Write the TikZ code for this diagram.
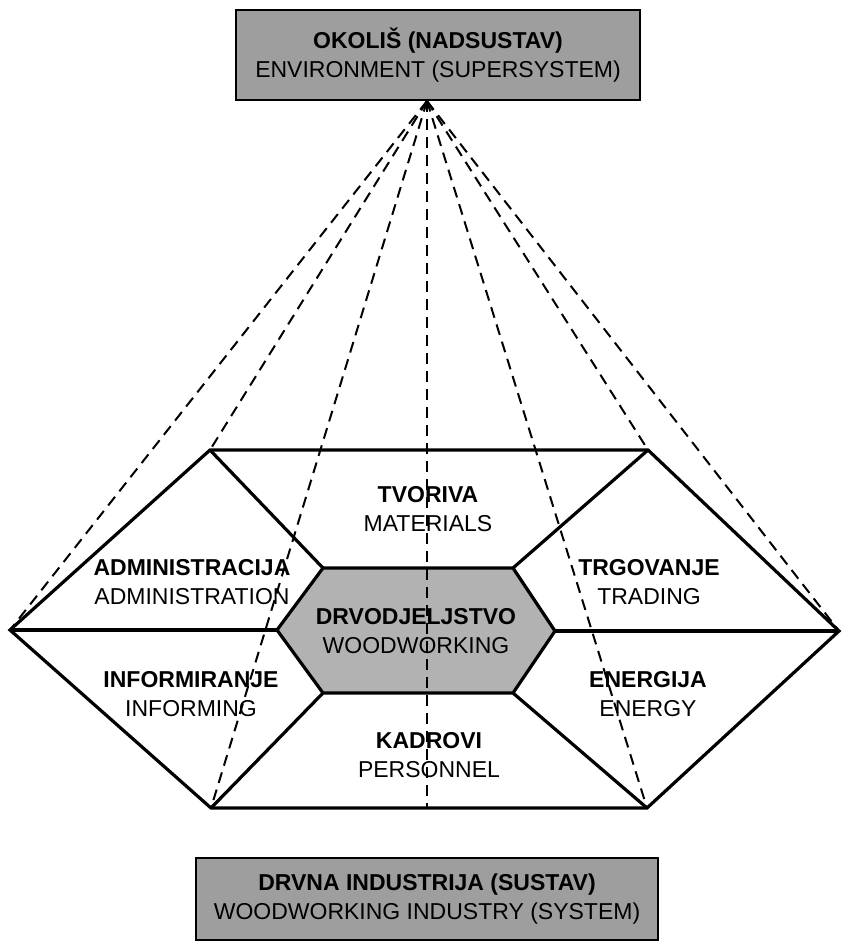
\documentclass[tikz,border=0pt]{standalone}
\usepackage{fontspec}
\setsansfont{Liberation Sans}
\usetikzlibrary{positioning}

\tikzset{
  sysbox/.style={draw, line width=2.5pt, fill=black!38, align=center, inner sep=0pt},
  part/.style={align=center, inner sep=0pt},
  link/.style={dash pattern=on 11pt off 7pt, line width=2pt},
  rim/.style={line width=3.2pt, line join=miter}
}

\begin{document}
\begin{tikzpicture}[x=1pt,y=-1pt,font=\sffamily\fontsize{23}{28.5}\selectfont]
\useasboundingbox (0,0) rectangle (842,948);

% supersystem and system
\node[sysbox, minimum width=404pt, minimum height=90pt] (env) at (438,55)
  {\textbf{OKOLIŠ (NADSUSTAV)}\\ENVIRONMENT (SUPERSYSTEM)};
\node[sysbox, minimum width=462pt, minimum height=82pt] (sys) at (427,899)
  {\textbf{DRVNA INDUSTRIJA (SUSTAV)}\\WOODWORKING INDUSTRY (SYSTEM)};

% outer hexagon
\coordinate (ol)  at (10,630);
\coordinate (otl) at (210,450);
\coordinate (otr) at (648,450);
\coordinate (or)  at (839,631);
\coordinate (obr) at (647,808);
\coordinate (obl) at (211,808);
\coordinate (obc) at (427,808);
% inner hexagon
\coordinate (il)  at (277,630);
\coordinate (itl) at (323,568);
\coordinate (itr) at (513,568);
\coordinate (ir)  at (555,631);
\coordinate (ibr) at (513,693);
\coordinate (ibl) at (323,693);

\coordinate (apex) at (427,101);

\fill[black!30] (il) -- (itl) -- (itr) -- (ir) -- (ibr) -- (ibl) -- cycle;

\foreach \p in {ol,otl,obl,obc,obr,otr,or}
  \draw[link] (apex) -- (\p);

\draw[rim] (ol) -- (otl) -- (otr) -- (or) -- (obr) -- (obl) -- cycle;
\draw[rim] (il) -- (itl) -- (itr) -- (ir) -- (ibr) -- (ibl) -- cycle;
\draw[rim] (ol) -- (il);
\draw[rim] (ir) -- (or);
\draw[rim] (otl) -- (itl);
\draw[rim] (otr) -- (itr);
\draw[rim] (obl) -- (ibl);
\draw[rim] (obr) -- (ibr);

% subsystems
\node[part] (mat)  at (428,509) {\textbf{TVORIVA}\\MATERIALS};
\node[part] (adm)  at (192,582) {\textbf{ADMINISTRACIJA}\\ADMINISTRATION};
\node[part] (trd)  at (649,582) {\textbf{TRGOVANJE}\\TRADING};
\node[part] (wood) at (416,631) {\textbf{DRVODJELJSTVO}\\WOODWORKING};
\node[part] (inf)  at (191,694) {\textbf{INFORMIRANJE}\\INFORMING};
\node[part] (eng)  at (648,694) {\textbf{ENERGIJA}\\ENERGY};
\node[part] (pers) at (429,755) {\textbf{KADROVI}\\PERSONNEL};

\end{tikzpicture}
\end{document}
